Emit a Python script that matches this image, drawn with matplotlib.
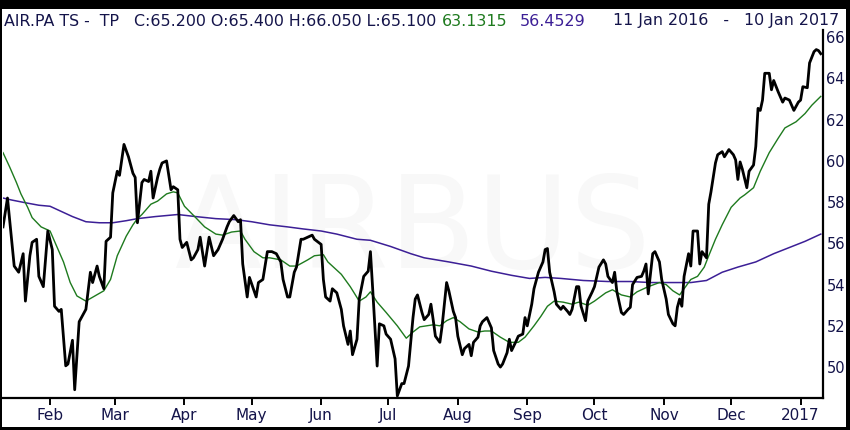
import matplotlib
matplotlib.use("Agg")
import matplotlib.pyplot as plt
from matplotlib.patches import Rectangle
import pandas as pd

# closing price
price_dates = [
    "2016-01-11", "2016-01-13", "2016-01-16", "2016-01-18", "2016-01-20", "2016-01-21",
    "2016-01-23", "2016-01-24", "2016-01-26", "2016-01-27", "2016-01-29", "2016-01-31",
    "2016-02-02", "2016-02-03", "2016-02-05", "2016-02-06", "2016-02-08", "2016-02-09",
    "2016-02-11", "2016-02-12", "2016-02-14", "2016-02-17", "2016-02-19", "2016-02-20",
    "2016-02-22", "2016-02-23", "2016-02-25", "2016-02-26", "2016-02-28", "2016-02-29",
    "2016-03-02", "2016-03-03", "2016-03-05", "2016-03-07", "2016-03-09", "2016-03-10",
    "2016-03-11", "2016-03-13", "2016-03-14", "2016-03-16", "2016-03-17", "2016-03-18",
    "2016-03-20", "2016-03-21", "2016-03-22", "2016-03-24", "2016-03-26", "2016-03-27",
    "2016-03-29", "2016-03-30", "2016-03-31", "2016-04-02", "2016-04-04", "2016-04-05",
    "2016-04-07", "2016-04-08", "2016-04-10", "2016-04-12", "2016-04-14", "2016-04-16",
    "2016-04-18", "2016-04-20", "2016-04-21", "2016-04-23", "2016-04-25", "2016-04-26",
    "2016-04-27", "2016-04-29", "2016-04-30", "2016-05-03", "2016-05-04", "2016-05-06",
    "2016-05-08", "2016-05-10", "2016-05-12", "2016-05-14", "2016-05-15", "2016-05-17",
    "2016-05-18", "2016-05-20", "2016-05-21", "2016-05-23", "2016-05-24", "2016-05-26",
    "2016-05-28", "2016-05-29", "2016-06-01", "2016-06-02", "2016-06-03", "2016-06-05",
    "2016-06-06", "2016-06-08", "2016-06-10", "2016-06-11", "2016-06-13", "2016-06-14",
    "2016-06-15", "2016-06-17", "2016-06-18", "2016-06-20", "2016-06-22", "2016-06-23",
    "2016-06-24", "2016-06-26", "2016-06-27", "2016-06-29", "2016-06-30", "2016-07-02",
    "2016-07-04", "2016-07-05", "2016-07-07", "2016-07-08", "2016-07-10", "2016-07-12",
    "2016-07-13", "2016-07-14", "2016-07-16", "2016-07-17", "2016-07-19", "2016-07-20",
    "2016-07-21", "2016-07-22", "2016-07-24", "2016-07-25", "2016-07-27", "2016-07-28",
    "2016-07-30", "2016-07-31", "2016-08-01", "2016-08-03", "2016-08-04", "2016-08-06",
    "2016-08-07", "2016-08-08", "2016-08-10", "2016-08-11", "2016-08-12", "2016-08-14",
    "2016-08-16", "2016-08-17", "2016-08-19", "2016-08-20", "2016-08-21", "2016-08-23",
    "2016-08-24", "2016-08-25", "2016-08-27", "2016-08-28", "2016-08-30", "2016-08-31",
    "2016-09-01", "2016-09-03", "2016-09-04", "2016-09-06", "2016-09-08", "2016-09-09",
    "2016-09-10", "2016-09-11", "2016-09-13", "2016-09-14", "2016-09-16", "2016-09-17",
    "2016-09-19", "2016-09-20", "2016-09-21", "2016-09-23", "2016-09-24", "2016-09-25",
    "2016-09-27", "2016-09-28", "2016-09-30", "2016-10-01", "2016-10-03", "2016-10-05",
    "2016-10-06", "2016-10-07", "2016-10-09", "2016-10-10", "2016-10-11", "2016-10-13",
    "2016-10-14", "2016-10-16", "2016-10-17", "2016-10-18", "2016-10-20", "2016-10-22",
    "2016-10-23", "2016-10-24", "2016-10-25", "2016-10-27", "2016-10-28", "2016-10-30",
    "2016-10-31", "2016-11-02", "2016-11-03", "2016-11-05", "2016-11-06", "2016-11-07",
    "2016-11-08", "2016-11-09", "2016-11-10", "2016-11-12", "2016-11-13", "2016-11-14",
    "2016-11-16", "2016-11-17", "2016-11-18", "2016-11-20", "2016-11-21", "2016-11-22",
    "2016-11-24", "2016-11-25", "2016-11-27", "2016-11-28", "2016-11-30", "2016-12-02",
    "2016-12-03", "2016-12-04", "2016-12-05", "2016-12-06", "2016-12-08", "2016-12-09",
    "2016-12-11", "2016-12-12", "2016-12-13", "2016-12-14", "2016-12-15", "2016-12-16",
    "2016-12-18", "2016-12-19", "2016-12-20", "2016-12-22", "2016-12-24", "2016-12-25",
    "2016-12-27", "2016-12-29", "2016-12-31", "2017-01-01", "2017-01-02", "2017-01-04",
    "2017-01-05", "2017-01-07", "2017-01-08", "2017-01-09", "2017-01-10",
]
price = [
    56.8, 58.2, 54.9, 54.6, 55.5, 53.2,
    55.4, 56.05, 56.2, 54.4, 53.9, 56.6,
    55.7, 52.95, 52.7, 52.8, 50.06, 50.15,
    51.3, 48.9, 52.2, 52.8, 54.6, 54.1,
    54.9, 54.4, 53.8, 56.1, 56.3, 58.45,
    59.5, 59.3, 60.8, 60.2, 59.4, 59.2,
    57.0, 58.95, 59.1, 59.0, 59.5, 58.2,
    59.2, 59.6, 59.9, 60.0, 58.6, 58.75,
    58.6, 56.2, 55.8, 56.05, 55.2, 55.3,
    55.7, 56.3, 54.9, 56.3, 55.4, 55.7,
    56.2, 56.8, 57.05, 57.35, 57.05, 57.15,
    55.0, 53.4, 54.35, 53.4, 54.1, 54.25,
    55.6, 55.6, 55.5, 55.1, 54.25, 53.4,
    53.4, 54.6, 54.85, 56.2, 56.2, 56.3,
    56.4, 56.2, 55.95, 54.25, 53.4, 53.2,
    53.8, 53.6, 52.8, 52.0, 51.1, 51.75,
    50.6, 51.35, 53.3, 54.4, 54.65, 55.6,
    53.8, 50.05, 52.1, 52.0, 51.6, 51.35,
    50.4, 48.6, 49.2, 49.2, 50.05, 52.4,
    53.3, 53.5, 52.65, 52.3, 52.55, 53.05,
    52.3, 51.5, 51.2, 52.0, 54.1, 53.7,
    52.7, 52.4, 51.5, 50.6, 50.9, 51.1,
    50.55, 51.2, 51.45, 52.0, 52.2, 52.4,
    51.9, 50.8, 50.15, 50.0, 50.15, 50.7,
    51.35, 50.8, 51.25, 51.5, 51.6, 52.4,
    52.0, 53.05, 53.8, 54.6, 55.1, 55.7,
    55.75, 54.6, 53.65, 53.05, 52.8, 52.95,
    52.7, 52.55, 52.8, 53.9, 53.9, 52.95,
    52.25, 53.2, 53.65, 53.9, 54.85, 55.2,
    55.0, 54.4, 54.1, 54.6, 53.65, 52.65,
    52.55, 52.8, 52.9, 54.0, 54.35, 54.4,
    54.65, 55.0, 53.55, 55.5, 55.6, 55.1,
    54.25, 53.3, 52.55, 52.1, 52.0, 52.9,
    53.3, 52.95, 54.4, 55.5, 54.9, 56.6,
    56.6, 55.0, 55.6, 55.3, 57.9, 58.5,
    59.9, 60.3, 60.45, 60.2, 60.55, 60.3,
    60.05, 59.1, 59.95, 59.6, 58.7, 59.5,
    59.8, 60.7, 62.55, 62.45, 62.95, 64.25,
    64.25, 63.45, 63.9, 63.35, 62.85, 63.05,
    62.95, 62.45, 62.85, 62.95, 63.6, 63.55,
    64.75, 65.3, 65.4, 65.35, 65.2,
]

# short moving average (green)
green_dates = [
    "2016-01-11", "2016-01-14", "2016-01-17", "2016-01-19", "2016-01-22", "2016-01-24",
    "2016-01-28", "2016-02-01", "2016-02-04", "2016-02-07", "2016-02-10", "2016-02-13",
    "2016-02-17", "2016-02-21", "2016-02-25", "2016-02-28", "2016-03-02", "2016-03-06",
    "2016-03-09", "2016-03-11", "2016-03-13", "2016-03-17", "2016-03-20", "2016-03-24",
    "2016-03-27", "2016-03-29", "2016-04-01", "2016-04-06", "2016-04-10", "2016-04-15",
    "2016-04-18", "2016-04-22", "2016-04-26", "2016-04-28", "2016-05-02", "2016-05-06",
    "2016-05-09", "2016-05-14", "2016-05-18", "2016-05-21", "2016-05-26", "2016-05-29",
    "2016-06-02", "2016-06-04", "2016-06-10", "2016-06-14", "2016-06-18", "2016-06-21",
    "2016-06-23", "2016-06-26", "2016-06-30", "2016-07-05", "2016-07-09", "2016-07-12",
    "2016-07-15", "2016-07-21", "2016-07-24", "2016-07-27", "2016-07-30", "2016-08-02",
    "2016-08-06", "2016-08-10", "2016-08-13", "2016-08-16", "2016-08-20", "2016-08-24",
    "2016-08-28", "2016-08-31", "2016-09-04", "2016-09-07", "2016-09-10", "2016-09-13",
    "2016-09-17", "2016-09-21", "2016-09-24", "2016-09-28", "2016-10-01", "2016-10-06",
    "2016-10-09", "2016-10-13", "2016-10-17", "2016-10-20", "2016-10-25", "2016-10-30",
    "2016-11-02", "2016-11-05", "2016-11-08", "2016-11-13", "2016-11-16", "2016-11-19",
    "2016-11-21", "2016-11-24", "2016-11-27", "2016-12-01", "2016-12-05", "2016-12-07",
    "2016-12-11", "2016-12-14", "2016-12-18", "2016-12-22", "2016-12-25", "2016-12-30",
    "2017-01-03", "2017-01-06", "2017-01-10",
]
green = [
    60.4, 59.7, 58.95, 58.4, 57.75, 57.25,
    56.8, 56.6, 55.85, 55.1, 54.1, 53.45,
    53.2, 53.45, 53.7, 54.25, 55.4, 56.35,
    56.9, 57.2, 57.4, 57.9, 58.05, 58.4,
    58.5, 58.45, 57.8, 57.25, 56.8, 56.45,
    56.4, 56.55, 56.6, 56.2, 55.6, 55.3,
    55.3, 55.2, 54.9, 54.9, 55.2, 55.4,
    55.45, 55.1, 54.5, 53.9, 53.2, 53.4,
    53.65, 53.15, 52.65, 52.0, 51.4, 51.7,
    51.95, 52.05, 52.0, 52.25, 52.4, 52.2,
    51.85, 51.7, 51.75, 51.75, 51.45, 51.2,
    51.2, 51.45, 52.0, 52.45, 52.95, 53.2,
    53.15, 53.05, 53.15, 53.0, 53.2, 53.6,
    53.75, 53.5, 53.4, 53.65, 53.9, 54.1,
    54.0, 53.7, 53.5, 54.25, 54.4, 54.85,
    55.4, 56.2, 56.9, 57.75, 58.2, 58.35,
    58.7, 59.5, 60.4, 61.1, 61.6, 61.9,
    62.3, 62.7, 63.13,
]

# long moving average (purple)
purple_dates = [
    "2016-01-11", "2016-01-15", "2016-01-22", "2016-01-27", "2016-02-01", "2016-02-06",
    "2016-02-11", "2016-02-17", "2016-02-23", "2016-02-29", "2016-03-06", "2016-03-11",
    "2016-03-19", "2016-03-29", "2016-04-06", "2016-04-15", "2016-04-24", "2016-05-01",
    "2016-05-09", "2016-05-17", "2016-05-24", "2016-06-01", "2016-06-08", "2016-06-17",
    "2016-06-23", "2016-07-02", "2016-07-11", "2016-07-17", "2016-07-28", "2016-08-07",
    "2016-08-16", "2016-08-25", "2016-09-02", "2016-09-09", "2016-09-16", "2016-09-26",
    "2016-10-07", "2016-10-17", "2016-10-26", "2016-11-08", "2016-11-13", "2016-11-20",
    "2016-11-27", "2016-12-04", "2016-12-12", "2016-12-20", "2016-12-27", "2017-01-03",
    "2017-01-10",
]
purple = [
    58.2, 58.1, 57.95, 57.85, 57.8, 57.55,
    57.3, 57.05, 57.0, 57.0, 57.1, 57.2,
    57.3, 57.4, 57.3, 57.2, 57.15, 57.05,
    56.9, 56.8, 56.7, 56.6, 56.45, 56.2,
    56.15, 55.85, 55.5, 55.3, 55.1, 54.9,
    54.65, 54.45, 54.3, 54.35, 54.3, 54.2,
    54.15, 54.15, 54.1, 54.1, 54.1, 54.2,
    54.6, 54.85, 55.1, 55.5, 55.8, 56.1,
    56.45,
]

month_ticks = ["2016-02-01", "2016-03-01", "2016-04-01", "2016-05-01", "2016-06-01",
               "2016-07-01", "2016-08-01", "2016-09-01", "2016-10-01", "2016-11-01",
               "2016-12-01", "2017-01-01"]
month_labels = ["Feb", "Mar", "Apr", "May", "Jun", "Jul", "Aug", "Sep", "Oct", "Nov",
                "Dec", "2017"]
y_ticks = [50, 52, 54, 56, 58, 60, 62, 64, 66]

W, H = 850, 430
navy = "#14144a"
green_c = "#1e7a1e"
purple_c = "#3c1f96"
FONT = ["DejaVu Sans"]

plt.rcParams["font.family"] = FONT
fig = plt.figure(figsize=(W / 100, H / 100), dpi=100)
fig.patch.set_facecolor("black")
frame = Rectangle((2 / W, 3 / H), 844 / W, 418 / H, transform=fig.transFigure,
                  facecolor="white", edgecolor="none", zorder=-10)
fig.patches.append(frame)

ax = fig.add_axes([3 / W, 32 / H, 820 / W, 368 / H])
ax.set_zorder(5)
ax.set_facecolor("white")

# faint watermark
ax.text(0.5, 0.45, "AIRBUS", transform=ax.transAxes, ha="center", va="center",
        fontsize=92, color="#f8f8f8", family=FONT, zorder=0)

ax.plot(pd.to_datetime(purple_dates), purple, color=purple_c, lw=1.1, zorder=2)
ax.plot(pd.to_datetime(green_dates), green, color=green_c, lw=1.0, zorder=3)
ax.plot(pd.to_datetime(price_dates), price, color="black", lw=2.0, zorder=4,
        solid_joinstyle="round")

ax.set_xlim(pd.Timestamp("2016-01-11"), pd.Timestamp("2017-01-11"))
ax.set_ylim(48.5, 66.35)

ax.set_xticks(pd.to_datetime(month_ticks))
ax.set_xticklabels(month_labels, family=FONT)
ax.set_yticks(y_ticks)
ax.set_yticklabels([str(v) for v in y_ticks], family=FONT)
ax.yaxis.tick_right()

for s in ["top", "left"]:
    ax.spines[s].set_visible(False)
for s in ["right", "bottom"]:
    ax.spines[s].set_linewidth(1.6)
    ax.spines[s].set_color("black")

ax.tick_params(axis="x", direction="out", length=5, width=1.4, colors="black",
               labelcolor=navy, labelsize=11, pad=2)
ax.tick_params(axis="y", length=0, labelcolor=navy, labelsize=10.5, pad=2.5)

# header line
hy = 1 - 21 / H
hs = 11.4
fig.text(4 / W, hy, "AIR.PA TS -  TP   C:65.200 O:65.400 H:66.050 L:65.100",
         color=navy, fontsize=hs, va="center", ha="left", family=FONT)
fig.text(442 / W, hy, "63.1315", color=green_c, fontsize=hs, va="center", ha="left",
         family=FONT)
fig.text(520 / W, hy, "56.4529", color=purple_c, fontsize=hs, va="center", ha="left",
         family=FONT)
fig.text(613 / W, hy, "11 Jan 2016   -   10 Jan 2017", color=navy, fontsize=hs,
         va="center", ha="left", family=FONT)

fig.savefig("out.png", dpi=100, facecolor=fig.get_facecolor())
